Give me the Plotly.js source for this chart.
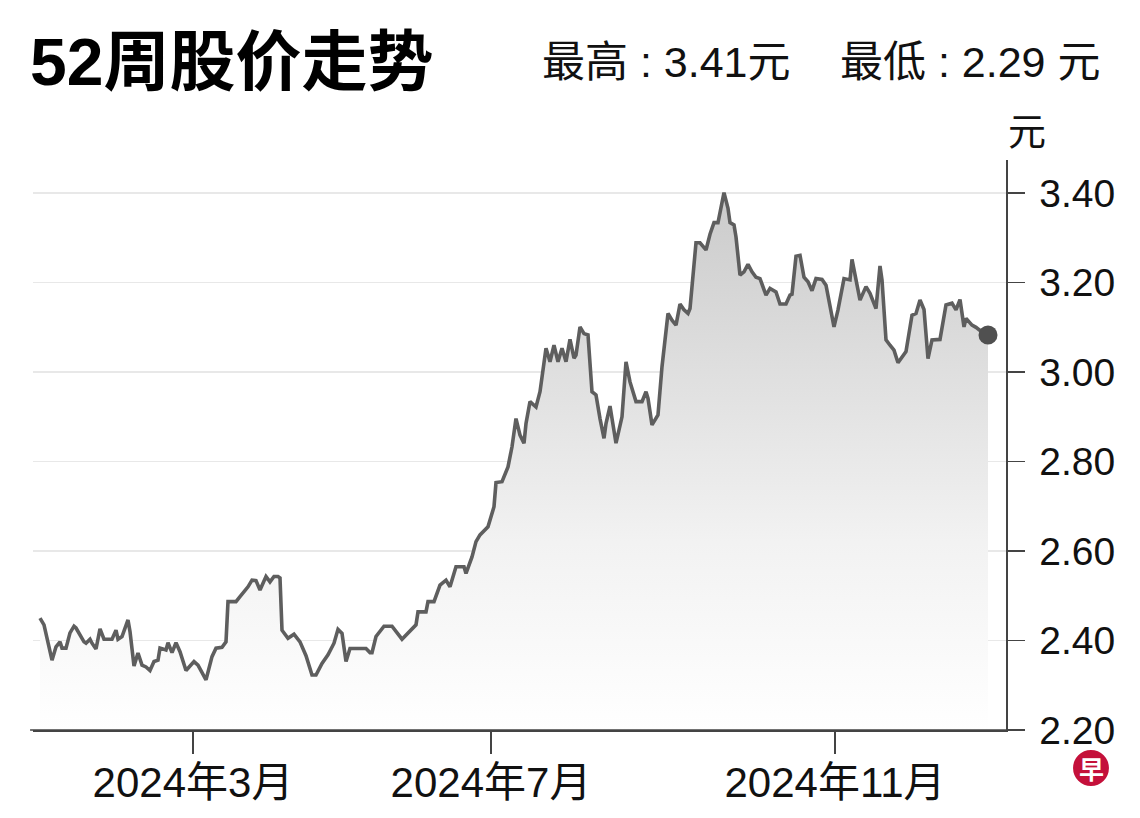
<!DOCTYPE html>
<html>
<head>
<meta charset="utf-8">
<script src="https://cdn.plot.ly/plotly-3.0.1.min.js"></script>
<style>
html,body{margin:0;padding:0;background:#fff;}
#chart{width:1140px;height:818px;}
</style>
</head>
<body>
<div id="chart"></div>
<script>
// session index (half-session resolution) and closing price (元)
const session = [0,2,6,8,10,11,13,15,17,18,22,23,25,26,28,30,32,36,38,39,41,44,45,47,49,51,53,55,57,59,60,63,64,66,68,70,73,77,79,81,83,86,88,91,93,94,98,100,102,104,106,108,110,112,113,115,117,119,120,121,124,127,130,133,136,138,141,144,147,149,151,153,155,163,165,166,168,172,176,181,186,188,189,193,194,197,200,203,205,208,212,213,216,218,220,224,227,228,231,234,236,238,240,242,243,245,248,250,253,255,257,259,261,263,265,267,268,270,272,274,276,278,280,282,283,285,288,291,293,295,298,301,303,304,306,309,311,314,316,318,320,322,324,325,328,330,333,335,337,339,342,344,345,347,348,350,352,354,356,358,360,363,365,368,370,373,375,376,378,380,382,384,386,388,391,393,397,399,402,405,406,408,410,413,415,418,420,421,423,425,427,429,433,436,438,440,442,444,446,450,453,456,458,460,462,463,466,468,472,474];
const price = [2.45,2.435,2.356,2.386,2.397,2.383,2.383,2.417,2.432,2.428,2.397,2.394,2.403,2.394,2.381,2.426,2.403,2.403,2.423,2.403,2.409,2.446,2.420,2.343,2.372,2.345,2.341,2.333,2.353,2.356,2.383,2.379,2.395,2.373,2.395,2.375,2.333,2.353,2.345,2.327,2.312,2.364,2.383,2.385,2.397,2.487,2.487,2.498,2.509,2.520,2.535,2.534,2.513,2.531,2.543,2.531,2.543,2.543,2.540,2.423,2.405,2.414,2.397,2.366,2.323,2.323,2.349,2.368,2.394,2.425,2.416,2.353,2.382,2.382,2.373,2.373,2.409,2.432,2.432,2.403,2.425,2.435,2.464,2.464,2.487,2.487,2.524,2.535,2.520,2.565,2.565,2.550,2.587,2.621,2.636,2.654,2.699,2.753,2.755,2.788,2.833,2.896,2.859,2.841,2.885,2.934,2.922,2.956,3.053,3.023,3.060,3.023,3.053,3.023,3.073,3.031,3.038,3.101,3.086,3.083,2.956,2.949,2.896,2.852,2.885,2.924,2.841,2.900,3.023,2.978,2.934,2.934,2.956,2.941,2.882,2.904,3.012,3.131,3.116,3.105,3.152,3.139,3.131,3.142,3.289,3.289,3.273,3.308,3.334,3.334,3.401,3.366,3.334,3.329,3.302,3.217,3.224,3.241,3.224,3.212,3.209,3.172,3.187,3.179,3.152,3.152,3.172,3.174,3.259,3.261,3.212,3.202,3.182,3.209,3.207,3.194,3.101,3.139,3.209,3.206,3.252,3.209,3.161,3.191,3.176,3.142,3.237,3.206,3.072,3.060,3.049,3.021,3.046,3.127,3.131,3.161,3.140,3.030,3.072,3.073,3.150,3.154,3.139,3.162,3.101,3.120,3.105,3.100,3.086,3.083];

const monthTickPos = [76.5, 225.5, 397.5];
const monthTickText = ['2024年3月', '2024年7月', '2024年11月'];
const priceTicks = [2.20, 2.40, 2.60, 2.80, 3.00, 3.20, 3.40];

const titleText = '52周股价走势';
const highText = '最高 : 3.41元';
const lowText = '最低 : 2.29 元';
const unitText = '元';

const FONT = 'Liberation Sans, Noto Sans CJK SC, sans-serif';

const last = price.length - 1;

const traces = [
  {
    x: session, y: price, type: 'scatter', mode: 'lines',
    line: {color: '#5e5e5e', width: 3.6, shape: 'linear'},
    fill: 'tozeroy',
    fillgradient: {type: 'vertical', start: 2.2, stop: 3.4,
      colorscale: [[0, 'rgba(255,255,255,1)'], [0.35, 'rgb(242,242,242)'], [1, 'rgb(203,203,203)']]},
    hoverinfo: 'skip', showlegend: false
  },
  {
    x: [session[last]], y: [price[last]], type: 'scatter', mode: 'markers',
    marker: {color: '#505050', size: 19}, hoverinfo: 'skip', showlegend: false
  }
];

const layout = {
  width: 1140, height: 818,
  margin: {l: 33, r: 134, t: 160, b: 88},
  paper_bgcolor: '#ffffff', plot_bgcolor: '#ffffff',
  showlegend: false,
  font: {family: FONT, color: '#111'},
  xaxis: {
    range: [-3.5, 483], showgrid: false, zeroline: false,
    showline: true, linecolor: '#444', linewidth: 1.5,
    tickmode: 'array', tickvals: monthTickPos, ticktext: monthTickText,
    ticks: 'outside', ticklen: 22, tickwidth: 1.5, tickcolor: '#444',
    ticklabelstandoff: -7,
    tickfont: {family: FONT, size: 42, color: '#111'},
    fixedrange: true
  },
  yaxis: {
    side: 'right', range: [2.2, 3.474], zeroline: false,
    showgrid: true, gridcolor: '#e8e8e8', gridwidth: 1.5,
    showline: true, linecolor: '#444', linewidth: 1.5,
    tickmode: 'array', tickvals: priceTicks, tickformat: '.2f',
    ticks: 'outside', ticklen: 17, tickwidth: 1.5, tickcolor: '#444',
    ticklabelstandoff: 7,
    tickfont: {family: FONT, size: 39, color: '#111'},
    fixedrange: true
  },
  shapes: [
    {type: 'line', xref: 'paper', yref: 'paper', x0: -0.003, x1: 1.0175, y0: 0, y1: 0,
      line: {color: '#444', width: 1.5}},
    {type: 'circle', xref: 'paper', yref: 'paper', x0: 1.0689, x1: 1.1058, y0: -0.0350, y1: -0.0983,
      fillcolor: '#c4103a', line: {width: 0}}
  ],
  annotations: [
    {text: '<b>' + titleText + '</b>', xref: 'paper', yref: 'paper', x: -0.0051, y: 1.172,
      xanchor: 'left', yanchor: 'middle', showarrow: false,
      font: {family: FONT, size: 66, color: '#000'}},
    {text: highText, xref: 'paper', yref: 'paper', x: 0.5211, y: 1.172,
      xanchor: 'left', yanchor: 'middle', showarrow: false,
      font: {family: FONT, size: 43, color: '#111'}},
    {text: lowText, xref: 'paper', yref: 'paper', x: 1.0987, y: 1.172,
      xanchor: 'right', yanchor: 'middle', showarrow: false,
      font: {family: FONT, size: 43, color: '#111'}},
    {text: unitText, xref: 'paper', yref: 'paper', x: 1.0216, y: 1.0491,
      xanchor: 'center', yanchor: 'middle', showarrow: false,
      font: {family: FONT, size: 38, color: '#111'}},
    {text: '<b>早</b>', xref: 'paper', yref: 'paper', x: 1.0874, y: -0.0667,
      xanchor: 'center', yanchor: 'middle', showarrow: false,
      font: {family: 'Noto Sans CJK SC, sans-serif', size: 25, color: '#ffffff'}}
  ]
};

Plotly.newPlot('chart', traces, layout, {displayModeBar: false, staticPlot: true});
</script>
</body>
</html>
